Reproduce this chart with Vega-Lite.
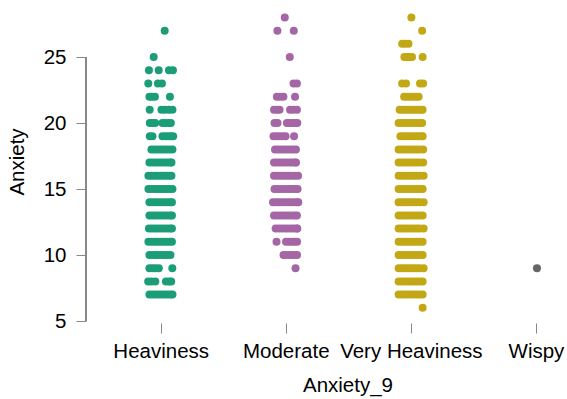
{
  "$schema": "https://vega.github.io/schema/vega-lite/v6.json",
  "width": 481,
  "height": 319,
  "autosize": {"type": "none"},
  "padding": {"left": 86, "top": 2, "right": 0, "bottom": 78},
  "background": "white",
  "config": {
    "view": {"stroke": null},
    "font": "Liberation Sans",
    "axis": {
      "labelFont": "Liberation Sans",
      "titleFont": "Liberation Sans",
      "labelFontSize": 20.5,
      "titleFontSize": 20.5,
      "titleFontWeight": "normal",
      "labelColor": "#000000",
      "titleColor": "#000000",
      "tickColor": "#888888",
      "tickSize": 10,
      "grid": false,
      "domain": false
    }
  },
  "data": {
    "values": [
      {"level": "Heaviness", "x": 0.032, "Anxiety": 27},
      {"level": "Heaviness", "x": -0.056, "Anxiety": 25},
      {"level": "Heaviness", "x": -0.094, "Anxiety": 24},
      {"level": "Heaviness", "x": -0.016, "Anxiety": 24},
      {"level": "Heaviness", "x": 0.066, "Anxiety": 24},
      {"level": "Heaviness", "x": 0.098, "Anxiety": 24},
      {"level": "Heaviness", "x": -0.099, "Anxiety": 23},
      {"level": "Heaviness", "x": -0.022, "Anxiety": 23},
      {"level": "Heaviness", "x": 0.010, "Anxiety": 23},
      {"level": "Heaviness", "x": -0.090, "Anxiety": 22},
      {"level": "Heaviness", "x": -0.070, "Anxiety": 22},
      {"level": "Heaviness", "x": -0.046, "Anxiety": 22},
      {"level": "Heaviness", "x": 0.074, "Anxiety": 22},
      {"level": "Heaviness", "x": -0.088, "Anxiety": 21},
      {"level": "Heaviness", "x": 0.006, "Anxiety": 21},
      {"level": "Heaviness", "x": 0.034, "Anxiety": 21},
      {"level": "Heaviness", "x": 0.066, "Anxiety": 21},
      {"level": "Heaviness", "x": 0.094, "Anxiety": 21},
      {"level": "Heaviness", "x": -0.087, "Anxiety": 20},
      {"level": "Heaviness", "x": -0.066, "Anxiety": 20},
      {"level": "Heaviness", "x": -0.044, "Anxiety": 20},
      {"level": "Heaviness", "x": 0.014, "Anxiety": 20},
      {"level": "Heaviness", "x": 0.038, "Anxiety": 20},
      {"level": "Heaviness", "x": 0.062, "Anxiety": 20},
      {"level": "Heaviness", "x": 0.081, "Anxiety": 20},
      {"level": "Heaviness", "x": -0.087, "Anxiety": 19},
      {"level": "Heaviness", "x": -0.066, "Anxiety": 19},
      {"level": "Heaviness", "x": 0.014, "Anxiety": 19},
      {"level": "Heaviness", "x": 0.038, "Anxiety": 19},
      {"level": "Heaviness", "x": 0.062, "Anxiety": 19},
      {"level": "Heaviness", "x": 0.082, "Anxiety": 19},
      {"level": "Heaviness", "x": 0.100, "Anxiety": 19},
      {"level": "Heaviness", "x": -0.074, "Anxiety": 18},
      {"level": "Heaviness", "x": -0.050, "Anxiety": 18},
      {"level": "Heaviness", "x": -0.026, "Anxiety": 18},
      {"level": "Heaviness", "x": -0.002, "Anxiety": 18},
      {"level": "Heaviness", "x": 0.022, "Anxiety": 18},
      {"level": "Heaviness", "x": 0.046, "Anxiety": 18},
      {"level": "Heaviness", "x": 0.070, "Anxiety": 18},
      {"level": "Heaviness", "x": 0.094, "Anxiety": 18},
      {"level": "Heaviness", "x": -0.090, "Anxiety": 17},
      {"level": "Heaviness", "x": -0.066, "Anxiety": 17},
      {"level": "Heaviness", "x": -0.042, "Anxiety": 17},
      {"level": "Heaviness", "x": -0.018, "Anxiety": 17},
      {"level": "Heaviness", "x": 0.006, "Anxiety": 17},
      {"level": "Heaviness", "x": 0.030, "Anxiety": 17},
      {"level": "Heaviness", "x": 0.054, "Anxiety": 17},
      {"level": "Heaviness", "x": 0.078, "Anxiety": 17},
      {"level": "Heaviness", "x": 0.086, "Anxiety": 17},
      {"level": "Heaviness", "x": -0.098, "Anxiety": 16},
      {"level": "Heaviness", "x": -0.074, "Anxiety": 16},
      {"level": "Heaviness", "x": -0.050, "Anxiety": 16},
      {"level": "Heaviness", "x": -0.026, "Anxiety": 16},
      {"level": "Heaviness", "x": -0.002, "Anxiety": 16},
      {"level": "Heaviness", "x": 0.022, "Anxiety": 16},
      {"level": "Heaviness", "x": 0.046, "Anxiety": 16},
      {"level": "Heaviness", "x": 0.070, "Anxiety": 16},
      {"level": "Heaviness", "x": 0.086, "Anxiety": 16},
      {"level": "Heaviness", "x": -0.098, "Anxiety": 15},
      {"level": "Heaviness", "x": -0.074, "Anxiety": 15},
      {"level": "Heaviness", "x": -0.050, "Anxiety": 15},
      {"level": "Heaviness", "x": -0.026, "Anxiety": 15},
      {"level": "Heaviness", "x": -0.002, "Anxiety": 15},
      {"level": "Heaviness", "x": 0.022, "Anxiety": 15},
      {"level": "Heaviness", "x": 0.046, "Anxiety": 15},
      {"level": "Heaviness", "x": 0.070, "Anxiety": 15},
      {"level": "Heaviness", "x": 0.094, "Anxiety": 15},
      {"level": "Heaviness", "x": -0.090, "Anxiety": 14},
      {"level": "Heaviness", "x": -0.066, "Anxiety": 14},
      {"level": "Heaviness", "x": -0.042, "Anxiety": 14},
      {"level": "Heaviness", "x": -0.018, "Anxiety": 14},
      {"level": "Heaviness", "x": 0.006, "Anxiety": 14},
      {"level": "Heaviness", "x": 0.030, "Anxiety": 14},
      {"level": "Heaviness", "x": 0.054, "Anxiety": 14},
      {"level": "Heaviness", "x": 0.078, "Anxiety": 14},
      {"level": "Heaviness", "x": 0.090, "Anxiety": 14},
      {"level": "Heaviness", "x": -0.090, "Anxiety": 13},
      {"level": "Heaviness", "x": -0.066, "Anxiety": 13},
      {"level": "Heaviness", "x": -0.042, "Anxiety": 13},
      {"level": "Heaviness", "x": -0.018, "Anxiety": 13},
      {"level": "Heaviness", "x": 0.006, "Anxiety": 13},
      {"level": "Heaviness", "x": 0.030, "Anxiety": 13},
      {"level": "Heaviness", "x": 0.054, "Anxiety": 13},
      {"level": "Heaviness", "x": 0.078, "Anxiety": 13},
      {"level": "Heaviness", "x": 0.090, "Anxiety": 13},
      {"level": "Heaviness", "x": -0.094, "Anxiety": 12},
      {"level": "Heaviness", "x": -0.070, "Anxiety": 12},
      {"level": "Heaviness", "x": -0.046, "Anxiety": 12},
      {"level": "Heaviness", "x": -0.022, "Anxiety": 12},
      {"level": "Heaviness", "x": 0.002, "Anxiety": 12},
      {"level": "Heaviness", "x": 0.026, "Anxiety": 12},
      {"level": "Heaviness", "x": 0.050, "Anxiety": 12},
      {"level": "Heaviness", "x": 0.074, "Anxiety": 12},
      {"level": "Heaviness", "x": 0.090, "Anxiety": 12},
      {"level": "Heaviness", "x": -0.098, "Anxiety": 11},
      {"level": "Heaviness", "x": -0.074, "Anxiety": 11},
      {"level": "Heaviness", "x": -0.050, "Anxiety": 11},
      {"level": "Heaviness", "x": -0.026, "Anxiety": 11},
      {"level": "Heaviness", "x": -0.002, "Anxiety": 11},
      {"level": "Heaviness", "x": 0.022, "Anxiety": 11},
      {"level": "Heaviness", "x": 0.046, "Anxiety": 11},
      {"level": "Heaviness", "x": 0.070, "Anxiety": 11},
      {"level": "Heaviness", "x": 0.090, "Anxiety": 11},
      {"level": "Heaviness", "x": -0.090, "Anxiety": 10},
      {"level": "Heaviness", "x": -0.066, "Anxiety": 10},
      {"level": "Heaviness", "x": -0.042, "Anxiety": 10},
      {"level": "Heaviness", "x": -0.018, "Anxiety": 10},
      {"level": "Heaviness", "x": 0.006, "Anxiety": 10},
      {"level": "Heaviness", "x": 0.030, "Anxiety": 10},
      {"level": "Heaviness", "x": 0.054, "Anxiety": 10},
      {"level": "Heaviness", "x": 0.078, "Anxiety": 10},
      {"level": "Heaviness", "x": -0.090, "Anxiety": 9},
      {"level": "Heaviness", "x": -0.066, "Anxiety": 9},
      {"level": "Heaviness", "x": -0.042, "Anxiety": 9},
      {"level": "Heaviness", "x": -0.015, "Anxiety": 9},
      {"level": "Heaviness", "x": 0.093, "Anxiety": 9},
      {"level": "Heaviness", "x": -0.100, "Anxiety": 8},
      {"level": "Heaviness", "x": -0.074, "Anxiety": 8},
      {"level": "Heaviness", "x": -0.043, "Anxiety": 8},
      {"level": "Heaviness", "x": 0.042, "Anxiety": 8},
      {"level": "Heaviness", "x": 0.066, "Anxiety": 8},
      {"level": "Heaviness", "x": 0.084, "Anxiety": 8},
      {"level": "Heaviness", "x": -0.090, "Anxiety": 7},
      {"level": "Heaviness", "x": -0.066, "Anxiety": 7},
      {"level": "Heaviness", "x": -0.042, "Anxiety": 7},
      {"level": "Heaviness", "x": -0.018, "Anxiety": 7},
      {"level": "Heaviness", "x": 0.006, "Anxiety": 7},
      {"level": "Heaviness", "x": 0.030, "Anxiety": 7},
      {"level": "Heaviness", "x": 0.054, "Anxiety": 7},
      {"level": "Heaviness", "x": 0.078, "Anxiety": 7},
      {"level": "Heaviness", "x": 0.094, "Anxiety": 7},

      {"level": "Moderate", "x": 0.992, "Anxiety": 28},
      {"level": "Moderate", "x": 0.933, "Anxiety": 27},
      {"level": "Moderate", "x": 1.064, "Anxiety": 27},
      {"level": "Moderate", "x": 1.032, "Anxiety": 25},
      {"level": "Moderate", "x": 1.062, "Anxiety": 23},
      {"level": "Moderate", "x": 1.089, "Anxiety": 23},
      {"level": "Moderate", "x": 0.929, "Anxiety": 22},
      {"level": "Moderate", "x": 0.954, "Anxiety": 22},
      {"level": "Moderate", "x": 0.981, "Anxiety": 22},
      {"level": "Moderate", "x": 1.074, "Anxiety": 22},
      {"level": "Moderate", "x": 0.906, "Anxiety": 21},
      {"level": "Moderate", "x": 0.930, "Anxiety": 21},
      {"level": "Moderate", "x": 0.950, "Anxiety": 21},
      {"level": "Moderate", "x": 1.034, "Anxiety": 21},
      {"level": "Moderate", "x": 1.058, "Anxiety": 21},
      {"level": "Moderate", "x": 1.089, "Anxiety": 21},
      {"level": "Moderate", "x": 0.910, "Anxiety": 20},
      {"level": "Moderate", "x": 0.934, "Anxiety": 20},
      {"level": "Moderate", "x": 1.009, "Anxiety": 20},
      {"level": "Moderate", "x": 1.030, "Anxiety": 20},
      {"level": "Moderate", "x": 1.054, "Anxiety": 20},
      {"level": "Moderate", "x": 1.074, "Anxiety": 20},
      {"level": "Moderate", "x": 1.092, "Anxiety": 20},
      {"level": "Moderate", "x": 0.902, "Anxiety": 19},
      {"level": "Moderate", "x": 0.926, "Anxiety": 19},
      {"level": "Moderate", "x": 0.950, "Anxiety": 19},
      {"level": "Moderate", "x": 0.974, "Anxiety": 19},
      {"level": "Moderate", "x": 0.998, "Anxiety": 19},
      {"level": "Moderate", "x": 1.066, "Anxiety": 19},
      {"level": "Moderate", "x": 0.914, "Anxiety": 18},
      {"level": "Moderate", "x": 0.938, "Anxiety": 18},
      {"level": "Moderate", "x": 0.962, "Anxiety": 18},
      {"level": "Moderate", "x": 0.986, "Anxiety": 18},
      {"level": "Moderate", "x": 1.010, "Anxiety": 18},
      {"level": "Moderate", "x": 1.034, "Anxiety": 18},
      {"level": "Moderate", "x": 1.058, "Anxiety": 18},
      {"level": "Moderate", "x": 1.081, "Anxiety": 18},
      {"level": "Moderate", "x": 0.906, "Anxiety": 17},
      {"level": "Moderate", "x": 0.930, "Anxiety": 17},
      {"level": "Moderate", "x": 0.954, "Anxiety": 17},
      {"level": "Moderate", "x": 0.978, "Anxiety": 17},
      {"level": "Moderate", "x": 1.002, "Anxiety": 17},
      {"level": "Moderate", "x": 1.026, "Anxiety": 17},
      {"level": "Moderate", "x": 1.050, "Anxiety": 17},
      {"level": "Moderate", "x": 1.074, "Anxiety": 17},
      {"level": "Moderate", "x": 1.082, "Anxiety": 17},
      {"level": "Moderate", "x": 0.906, "Anxiety": 16},
      {"level": "Moderate", "x": 0.930, "Anxiety": 16},
      {"level": "Moderate", "x": 0.954, "Anxiety": 16},
      {"level": "Moderate", "x": 0.978, "Anxiety": 16},
      {"level": "Moderate", "x": 1.002, "Anxiety": 16},
      {"level": "Moderate", "x": 1.026, "Anxiety": 16},
      {"level": "Moderate", "x": 1.050, "Anxiety": 16},
      {"level": "Moderate", "x": 1.074, "Anxiety": 16},
      {"level": "Moderate", "x": 1.098, "Anxiety": 16},
      {"level": "Moderate", "x": 0.910, "Anxiety": 15},
      {"level": "Moderate", "x": 0.934, "Anxiety": 15},
      {"level": "Moderate", "x": 0.958, "Anxiety": 15},
      {"level": "Moderate", "x": 0.982, "Anxiety": 15},
      {"level": "Moderate", "x": 1.006, "Anxiety": 15},
      {"level": "Moderate", "x": 1.030, "Anxiety": 15},
      {"level": "Moderate", "x": 1.054, "Anxiety": 15},
      {"level": "Moderate", "x": 1.078, "Anxiety": 15},
      {"level": "Moderate", "x": 1.094, "Anxiety": 15},
      {"level": "Moderate", "x": 0.898, "Anxiety": 14},
      {"level": "Moderate", "x": 0.922, "Anxiety": 14},
      {"level": "Moderate", "x": 0.946, "Anxiety": 14},
      {"level": "Moderate", "x": 0.970, "Anxiety": 14},
      {"level": "Moderate", "x": 0.994, "Anxiety": 14},
      {"level": "Moderate", "x": 1.018, "Anxiety": 14},
      {"level": "Moderate", "x": 1.042, "Anxiety": 14},
      {"level": "Moderate", "x": 1.066, "Anxiety": 14},
      {"level": "Moderate", "x": 1.090, "Anxiety": 14},
      {"level": "Moderate", "x": 1.100, "Anxiety": 14},
      {"level": "Moderate", "x": 0.906, "Anxiety": 13},
      {"level": "Moderate", "x": 0.930, "Anxiety": 13},
      {"level": "Moderate", "x": 0.954, "Anxiety": 13},
      {"level": "Moderate", "x": 0.978, "Anxiety": 13},
      {"level": "Moderate", "x": 1.002, "Anxiety": 13},
      {"level": "Moderate", "x": 1.026, "Anxiety": 13},
      {"level": "Moderate", "x": 1.050, "Anxiety": 13},
      {"level": "Moderate", "x": 1.074, "Anxiety": 13},
      {"level": "Moderate", "x": 1.089, "Anxiety": 13},
      {"level": "Moderate", "x": 0.919, "Anxiety": 12},
      {"level": "Moderate", "x": 0.943, "Anxiety": 12},
      {"level": "Moderate", "x": 0.967, "Anxiety": 12},
      {"level": "Moderate", "x": 0.991, "Anxiety": 12},
      {"level": "Moderate", "x": 1.015, "Anxiety": 12},
      {"level": "Moderate", "x": 1.039, "Anxiety": 12},
      {"level": "Moderate", "x": 1.063, "Anxiety": 12},
      {"level": "Moderate", "x": 1.087, "Anxiety": 12},
      {"level": "Moderate", "x": 1.092, "Anxiety": 12},
      {"level": "Moderate", "x": 0.926, "Anxiety": 11},
      {"level": "Moderate", "x": 1.002, "Anxiety": 11},
      {"level": "Moderate", "x": 1.026, "Anxiety": 11},
      {"level": "Moderate", "x": 1.050, "Anxiety": 11},
      {"level": "Moderate", "x": 1.070, "Anxiety": 11},
      {"level": "Moderate", "x": 1.090, "Anxiety": 11},
      {"level": "Moderate", "x": 0.982, "Anxiety": 10},
      {"level": "Moderate", "x": 1.006, "Anxiety": 10},
      {"level": "Moderate", "x": 1.030, "Anxiety": 10},
      {"level": "Moderate", "x": 1.054, "Anxiety": 10},
      {"level": "Moderate", "x": 1.074, "Anxiety": 10},
      {"level": "Moderate", "x": 1.090, "Anxiety": 10},
      {"level": "Moderate", "x": 1.078, "Anxiety": 9},

      {"level": "Very Heaviness", "x": 2.004, "Anxiety": 28},
      {"level": "Very Heaviness", "x": 2.090, "Anxiety": 27},
      {"level": "Very Heaviness", "x": 1.930, "Anxiety": 26},
      {"level": "Very Heaviness", "x": 1.954, "Anxiety": 26},
      {"level": "Very Heaviness", "x": 1.981, "Anxiety": 26},
      {"level": "Very Heaviness", "x": 1.948, "Anxiety": 25},
      {"level": "Very Heaviness", "x": 1.970, "Anxiety": 25},
      {"level": "Very Heaviness", "x": 1.990, "Anxiety": 25},
      {"level": "Very Heaviness", "x": 2.009, "Anxiety": 25},
      {"level": "Very Heaviness", "x": 2.094, "Anxiety": 25},
      {"level": "Very Heaviness", "x": 1.930, "Anxiety": 23},
      {"level": "Very Heaviness", "x": 1.961, "Anxiety": 23},
      {"level": "Very Heaviness", "x": 2.073, "Anxiety": 23},
      {"level": "Very Heaviness", "x": 2.098, "Anxiety": 23},
      {"level": "Very Heaviness", "x": 1.946, "Anxiety": 22},
      {"level": "Very Heaviness", "x": 1.970, "Anxiety": 22},
      {"level": "Very Heaviness", "x": 1.994, "Anxiety": 22},
      {"level": "Very Heaviness", "x": 2.018, "Anxiety": 22},
      {"level": "Very Heaviness", "x": 2.042, "Anxiety": 22},
      {"level": "Very Heaviness", "x": 2.062, "Anxiety": 22},
      {"level": "Very Heaviness", "x": 1.910, "Anxiety": 21},
      {"level": "Very Heaviness", "x": 1.934, "Anxiety": 21},
      {"level": "Very Heaviness", "x": 1.958, "Anxiety": 21},
      {"level": "Very Heaviness", "x": 1.982, "Anxiety": 21},
      {"level": "Very Heaviness", "x": 2.006, "Anxiety": 21},
      {"level": "Very Heaviness", "x": 2.030, "Anxiety": 21},
      {"level": "Very Heaviness", "x": 2.054, "Anxiety": 21},
      {"level": "Very Heaviness", "x": 2.078, "Anxiety": 21},
      {"level": "Very Heaviness", "x": 2.094, "Anxiety": 21},
      {"level": "Very Heaviness", "x": 1.902, "Anxiety": 20},
      {"level": "Very Heaviness", "x": 1.926, "Anxiety": 20},
      {"level": "Very Heaviness", "x": 1.950, "Anxiety": 20},
      {"level": "Very Heaviness", "x": 1.974, "Anxiety": 20},
      {"level": "Very Heaviness", "x": 1.998, "Anxiety": 20},
      {"level": "Very Heaviness", "x": 2.022, "Anxiety": 20},
      {"level": "Very Heaviness", "x": 2.046, "Anxiety": 20},
      {"level": "Very Heaviness", "x": 2.070, "Anxiety": 20},
      {"level": "Very Heaviness", "x": 2.090, "Anxiety": 20},
      {"level": "Very Heaviness", "x": 1.916, "Anxiety": 19},
      {"level": "Very Heaviness", "x": 1.940, "Anxiety": 19},
      {"level": "Very Heaviness", "x": 1.964, "Anxiety": 19},
      {"level": "Very Heaviness", "x": 1.988, "Anxiety": 19},
      {"level": "Very Heaviness", "x": 2.012, "Anxiety": 19},
      {"level": "Very Heaviness", "x": 2.036, "Anxiety": 19},
      {"level": "Very Heaviness", "x": 2.060, "Anxiety": 19},
      {"level": "Very Heaviness", "x": 2.084, "Anxiety": 19},
      {"level": "Very Heaviness", "x": 2.094, "Anxiety": 19},
      {"level": "Very Heaviness", "x": 1.902, "Anxiety": 18},
      {"level": "Very Heaviness", "x": 1.926, "Anxiety": 18},
      {"level": "Very Heaviness", "x": 1.950, "Anxiety": 18},
      {"level": "Very Heaviness", "x": 1.974, "Anxiety": 18},
      {"level": "Very Heaviness", "x": 1.998, "Anxiety": 18},
      {"level": "Very Heaviness", "x": 2.022, "Anxiety": 18},
      {"level": "Very Heaviness", "x": 2.046, "Anxiety": 18},
      {"level": "Very Heaviness", "x": 2.070, "Anxiety": 18},
      {"level": "Very Heaviness", "x": 2.098, "Anxiety": 18},
      {"level": "Very Heaviness", "x": 1.902, "Anxiety": 17},
      {"level": "Very Heaviness", "x": 1.926, "Anxiety": 17},
      {"level": "Very Heaviness", "x": 1.950, "Anxiety": 17},
      {"level": "Very Heaviness", "x": 1.974, "Anxiety": 17},
      {"level": "Very Heaviness", "x": 1.998, "Anxiety": 17},
      {"level": "Very Heaviness", "x": 2.022, "Anxiety": 17},
      {"level": "Very Heaviness", "x": 2.046, "Anxiety": 17},
      {"level": "Very Heaviness", "x": 2.070, "Anxiety": 17},
      {"level": "Very Heaviness", "x": 2.098, "Anxiety": 17},
      {"level": "Very Heaviness", "x": 1.902, "Anxiety": 16},
      {"level": "Very Heaviness", "x": 1.926, "Anxiety": 16},
      {"level": "Very Heaviness", "x": 1.950, "Anxiety": 16},
      {"level": "Very Heaviness", "x": 1.974, "Anxiety": 16},
      {"level": "Very Heaviness", "x": 1.998, "Anxiety": 16},
      {"level": "Very Heaviness", "x": 2.022, "Anxiety": 16},
      {"level": "Very Heaviness", "x": 2.046, "Anxiety": 16},
      {"level": "Very Heaviness", "x": 2.070, "Anxiety": 16},
      {"level": "Very Heaviness", "x": 2.102, "Anxiety": 16},
      {"level": "Very Heaviness", "x": 1.902, "Anxiety": 15},
      {"level": "Very Heaviness", "x": 1.926, "Anxiety": 15},
      {"level": "Very Heaviness", "x": 1.950, "Anxiety": 15},
      {"level": "Very Heaviness", "x": 1.974, "Anxiety": 15},
      {"level": "Very Heaviness", "x": 1.998, "Anxiety": 15},
      {"level": "Very Heaviness", "x": 2.022, "Anxiety": 15},
      {"level": "Very Heaviness", "x": 2.046, "Anxiety": 15},
      {"level": "Very Heaviness", "x": 2.070, "Anxiety": 15},
      {"level": "Very Heaviness", "x": 2.094, "Anxiety": 15},
      {"level": "Very Heaviness", "x": 1.902, "Anxiety": 14},
      {"level": "Very Heaviness", "x": 1.926, "Anxiety": 14},
      {"level": "Very Heaviness", "x": 1.950, "Anxiety": 14},
      {"level": "Very Heaviness", "x": 1.974, "Anxiety": 14},
      {"level": "Very Heaviness", "x": 1.998, "Anxiety": 14},
      {"level": "Very Heaviness", "x": 2.022, "Anxiety": 14},
      {"level": "Very Heaviness", "x": 2.046, "Anxiety": 14},
      {"level": "Very Heaviness", "x": 2.070, "Anxiety": 14},
      {"level": "Very Heaviness", "x": 2.102, "Anxiety": 14},
      {"level": "Very Heaviness", "x": 1.902, "Anxiety": 13},
      {"level": "Very Heaviness", "x": 1.926, "Anxiety": 13},
      {"level": "Very Heaviness", "x": 1.950, "Anxiety": 13},
      {"level": "Very Heaviness", "x": 1.974, "Anxiety": 13},
      {"level": "Very Heaviness", "x": 1.998, "Anxiety": 13},
      {"level": "Very Heaviness", "x": 2.022, "Anxiety": 13},
      {"level": "Very Heaviness", "x": 2.046, "Anxiety": 13},
      {"level": "Very Heaviness", "x": 2.070, "Anxiety": 13},
      {"level": "Very Heaviness", "x": 2.094, "Anxiety": 13},
      {"level": "Very Heaviness", "x": 1.902, "Anxiety": 12},
      {"level": "Very Heaviness", "x": 1.926, "Anxiety": 12},
      {"level": "Very Heaviness", "x": 1.950, "Anxiety": 12},
      {"level": "Very Heaviness", "x": 1.974, "Anxiety": 12},
      {"level": "Very Heaviness", "x": 1.998, "Anxiety": 12},
      {"level": "Very Heaviness", "x": 2.022, "Anxiety": 12},
      {"level": "Very Heaviness", "x": 2.046, "Anxiety": 12},
      {"level": "Very Heaviness", "x": 2.070, "Anxiety": 12},
      {"level": "Very Heaviness", "x": 2.102, "Anxiety": 12},
      {"level": "Very Heaviness", "x": 1.902, "Anxiety": 11},
      {"level": "Very Heaviness", "x": 1.926, "Anxiety": 11},
      {"level": "Very Heaviness", "x": 1.950, "Anxiety": 11},
      {"level": "Very Heaviness", "x": 1.974, "Anxiety": 11},
      {"level": "Very Heaviness", "x": 1.998, "Anxiety": 11},
      {"level": "Very Heaviness", "x": 2.022, "Anxiety": 11},
      {"level": "Very Heaviness", "x": 2.046, "Anxiety": 11},
      {"level": "Very Heaviness", "x": 2.070, "Anxiety": 11},
      {"level": "Very Heaviness", "x": 2.094, "Anxiety": 11},
      {"level": "Very Heaviness", "x": 1.902, "Anxiety": 10},
      {"level": "Very Heaviness", "x": 1.926, "Anxiety": 10},
      {"level": "Very Heaviness", "x": 1.950, "Anxiety": 10},
      {"level": "Very Heaviness", "x": 1.974, "Anxiety": 10},
      {"level": "Very Heaviness", "x": 1.998, "Anxiety": 10},
      {"level": "Very Heaviness", "x": 2.022, "Anxiety": 10},
      {"level": "Very Heaviness", "x": 2.046, "Anxiety": 10},
      {"level": "Very Heaviness", "x": 2.070, "Anxiety": 10},
      {"level": "Very Heaviness", "x": 2.094, "Anxiety": 10},
      {"level": "Very Heaviness", "x": 1.902, "Anxiety": 9},
      {"level": "Very Heaviness", "x": 1.926, "Anxiety": 9},
      {"level": "Very Heaviness", "x": 1.950, "Anxiety": 9},
      {"level": "Very Heaviness", "x": 1.974, "Anxiety": 9},
      {"level": "Very Heaviness", "x": 1.998, "Anxiety": 9},
      {"level": "Very Heaviness", "x": 2.022, "Anxiety": 9},
      {"level": "Very Heaviness", "x": 2.046, "Anxiety": 9},
      {"level": "Very Heaviness", "x": 2.070, "Anxiety": 9},
      {"level": "Very Heaviness", "x": 2.102, "Anxiety": 9},
      {"level": "Very Heaviness", "x": 1.902, "Anxiety": 8},
      {"level": "Very Heaviness", "x": 1.926, "Anxiety": 8},
      {"level": "Very Heaviness", "x": 1.950, "Anxiety": 8},
      {"level": "Very Heaviness", "x": 1.974, "Anxiety": 8},
      {"level": "Very Heaviness", "x": 1.998, "Anxiety": 8},
      {"level": "Very Heaviness", "x": 2.022, "Anxiety": 8},
      {"level": "Very Heaviness", "x": 2.046, "Anxiety": 8},
      {"level": "Very Heaviness", "x": 2.070, "Anxiety": 8},
      {"level": "Very Heaviness", "x": 2.094, "Anxiety": 8},
      {"level": "Very Heaviness", "x": 1.902, "Anxiety": 7},
      {"level": "Very Heaviness", "x": 1.926, "Anxiety": 7},
      {"level": "Very Heaviness", "x": 1.950, "Anxiety": 7},
      {"level": "Very Heaviness", "x": 1.974, "Anxiety": 7},
      {"level": "Very Heaviness", "x": 1.998, "Anxiety": 7},
      {"level": "Very Heaviness", "x": 2.022, "Anxiety": 7},
      {"level": "Very Heaviness", "x": 2.046, "Anxiety": 7},
      {"level": "Very Heaviness", "x": 2.070, "Anxiety": 7},
      {"level": "Very Heaviness", "x": 2.094, "Anxiety": 7},
      {"level": "Very Heaviness", "x": 2.094, "Anxiety": 6},

      {"level": "Wispy", "x": 3.008, "Anxiety": 9}
    ]
  },
  "layer": [
    {
      "mark": {"type": "rule", "color": "#888888", "strokeWidth": 1},
      "encoding": {
        "x": {"datum": -0.597, "type": "quantitative"},
        "y": {"datum": 5, "type": "quantitative"},
        "y2": {"datum": 25}
      }
    },
    {
      "mark": {"type": "circle", "size": 64, "opacity": 1},
      "encoding": {
        "x": {
          "field": "x",
          "type": "quantitative",
          "scale": {"domain": [-0.597, 3.248], "nice": false, "zero": false},
          "axis": {
            "title": "Anxiety_9",
            "values": [0, 1, 2, 3],
            "labelExpr": "['Heaviness', 'Moderate', 'Very Heaviness', 'Wispy'][datum.value]",
            "offset": 2,
            "labelPadding": 8,
            "titlePadding": 14,
            "titleX": 261.5,
            "labelFlush": false,
            "labelOverlap": false
          }
        },
        "y": {
          "field": "Anxiety",
          "type": "quantitative",
          "scale": {"domain": [5, 29.17], "nice": false, "zero": false},
          "axis": {
            "title": "Anxiety",
            "values": [5, 10, 15, 20, 25],
            "labelPadding": 10,
            "titlePadding": 16,
            "labelFlush": false
          }
        },
        "color": {
          "field": "level",
          "type": "nominal",
          "scale": {
            "domain": ["Heaviness", "Moderate", "Very Heaviness", "Wispy"],
            "range": ["#1b9e77", "#a566a6", "#c3a815", "#666666"]
          },
          "legend": null
        }
      }
    }
  ]
}
